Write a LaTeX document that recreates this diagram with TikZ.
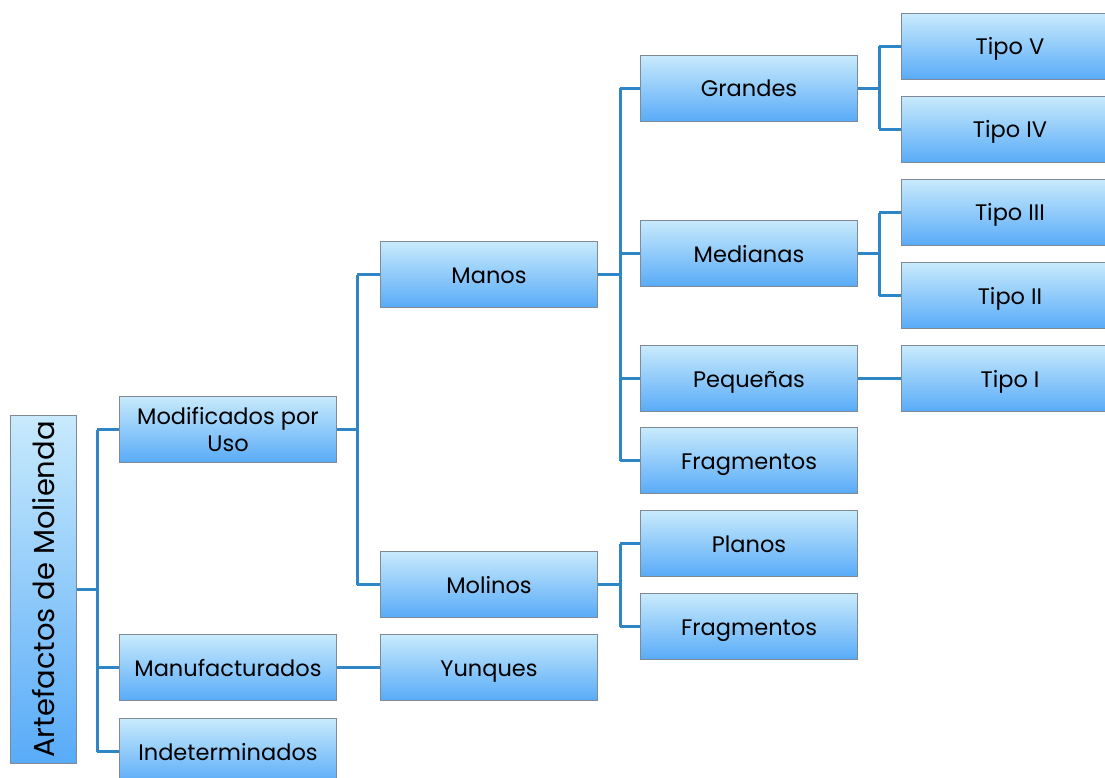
\documentclass[tikz,border=0pt]{standalone}
\usepackage{fontspec}
\setmainfont{Poppins}
\begin{document}
\begin{tikzpicture}[x=1pt,y=-1pt,
  box/.style={draw=boxgray, line width=1pt, top color=boxtop, bottom color=boxbot,
    minimum width=217pt, minimum height=66pt, inner sep=2pt, anchor=north west,
    font=\fontsize{22.5}{27}\selectfont, text=black, align=center,
    text height=19pt, text depth=2pt},
  conn/.style={draw=connblue, line width=3pt}]
\definecolor{boxgray}{HTML}{7F8A96}
\definecolor{boxtop}{HTML}{C8EAFC}
\definecolor{boxbot}{HTML}{58ABF8}
\definecolor{connblue}{HTML}{2E86C6}
\useasboundingbox (0,0) rectangle (1105,778);
% root
\node[box, minimum width=66pt, minimum height=348pt, anchor=north west] (root) at (10,415) {};
\node[rotate=90, font=\fontsize{29}{32}\selectfont] (roottext) at (root.center) {Artefactos de Molienda};
% level 1
\node[box, text height={}, text depth={}] (mod) at (119,396) {Modificados por\\Uso};
\node[box] (manu) at (119,634) {Manufacturados};
\node[box] (ind) at (119,718) {Indeterminados};
% level 2
\node[box] (manos) at (380,241) {Manos};
\node[box] (molinos) at (380,551) {Molinos};
\node[box] (yunques) at (380,634) {Yunques};
% level 3
\node[box] (grandes) at (640,55) {Grandes};
\node[box] (medianas) at (640,220) {Medianas};
\node[box] (peq) at (640,345) {Pequeñas};
\node[box] (frag1) at (640,427) {Fragmentos};
\node[box] (planos) at (640,510) {Planos};
\node[box] (frag2) at (640,593) {Fragmentos};
% level 4
\node[box] (t5) at (901,13) {Tipo V};
\node[box] (t4) at (901,96) {Tipo IV};
\node[box] (t3) at (901,179) {Tipo III};
\node[box] (t2) at (901,262) {Tipo II};
\node[box] (t1) at (901,345) {Tipo I};
% bus coordinates
\coordinate (b0) at (97,0);
\coordinate (b1) at (357,0);
\coordinate (b2) at (620,0);
\coordinate (b3) at (879,0);
% connectors
\draw[conn] (root.east) -- (root.east -| b0);
\draw[conn] (b0 |- mod.west) -- (b0 |- ind.west);
\foreach \c in {mod,manu,ind} \draw[conn] (b0 |- \c.west) -- (\c.west);
\draw[conn] (mod.east) -- (mod.east -| b1);
\draw[conn] (b1 |- manos.west) -- (b1 |- molinos.west);
\foreach \c in {manos,molinos} \draw[conn] (b1 |- \c.west) -- (\c.west);
\draw[conn] (manu.east) -- (yunques.west);
\draw[conn] (manos.east) -- (manos.east -| b2);
\draw[conn] (b2 |- grandes.west) -- (b2 |- frag1.west);
\foreach \c in {grandes,medianas,peq,frag1} \draw[conn] (b2 |- \c.west) -- (\c.west);
\draw[conn] (molinos.east) -- (molinos.east -| b2);
\draw[conn] (b2 |- planos.west) -- (b2 |- frag2.west);
\foreach \c in {planos,frag2} \draw[conn] (b2 |- \c.west) -- (\c.west);
\draw[conn] (grandes.east) -- (grandes.east -| b3);
\draw[conn] (b3 |- t5.west) -- (b3 |- t4.west);
\foreach \c in {t5,t4} \draw[conn] (b3 |- \c.west) -- (\c.west);
\draw[conn] (medianas.east) -- (medianas.east -| b3);
\draw[conn] (b3 |- t3.west) -- (b3 |- t2.west);
\foreach \c in {t3,t2} \draw[conn] (b3 |- \c.west) -- (\c.west);
\draw[conn] (peq.east) -- (t1.west);
\end{tikzpicture}
\end{document}
